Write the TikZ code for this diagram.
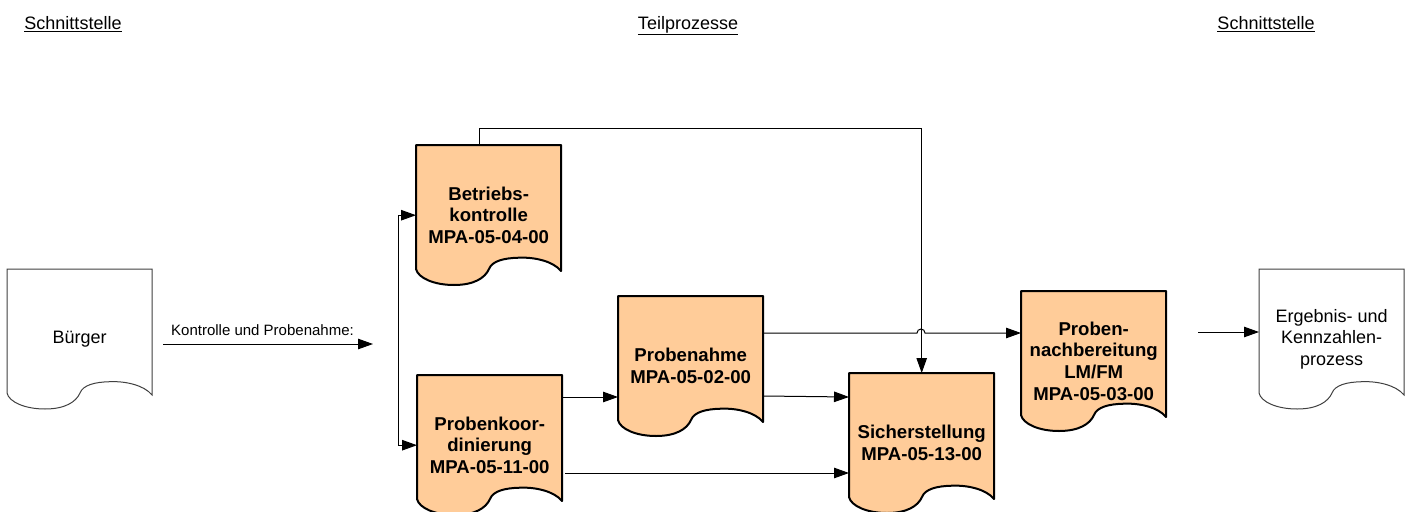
\documentclass[tikz,border=0pt]{standalone}
\usepackage{fontspec}
\setmainfont{Liberation Sans}
\usetikzlibrary{arrows.meta,backgrounds}
\definecolor{peach}{RGB}{255,204,153}
\tikzset{
  docnode/.style={rectangle, minimum width=145pt, minimum height=140pt, inner sep=0pt, anchor=north west, align=center},
  proc/.style={docnode, font=\bfseries\fontsize{18.6}{21.8}\selectfont},
  iface/.style={docnode, font=\fontsize{18}{21.5}\selectfont},
  procshape/.style={fill=peach, draw=black, line width=2pt, line join=round},
  ifaceshape/.style={fill=white, draw=black!75, line width=1pt},
  conn/.style={draw=black, line width=1pt, -{Triangle[length=15pt,width=10.5pt]}},
  head/.style={font=\fontsize{18}{21.5}\selectfont, inner sep=0pt, anchor=base},
  lbl/.style={font=\fontsize{15}{18}\selectfont, inner sep=0pt, anchor=base west}
}
\newcommand{\drawdoc}[2]{%
  \begin{scope}[shift={(#1.north west)}]
    \path[#2] (0,0) -- (145,0) -- (145,-126)
      .. controls (137,-116) and (118,-112) .. (103,-112.7)
      .. controls (88,-113) and (76,-116) .. (73,-124)
      .. controls (69,-133) and (58,-140) .. (38,-140)
      .. controls (18,-140) and (2,-133) .. (0,-124) -- cycle;
  \end{scope}}
\begin{document}
\begin{tikzpicture}[x=1pt,y=1pt]
\useasboundingbox (0,0) rectangle (1407,-511);
% headers
\node[head] (h1) at (73,-29.5) {\underline{Schnittstelle}};
\node[head] (h2) at (688,-29.5) {\underline{Teilprozesse}};
\node[head] (h3) at (1266,-29.5) {\underline{Schnittstelle}};
% nodes
\node[iface] (buerger) at (7,-269) {Bürger};
\node[proc] (betriebs) at (416,-145) {Betriebs-\\kontrolle\\MPA-05-04-00};
\node[proc] (koord) at (417,-375) {Probenkoor-\\dinierung\\MPA-05-11-00};
\node[proc] (nahme) at (618,-296) {Probenahme\\MPA-05-02-00};
\node[proc] (sicher) at (849,-373) {Sicherstellung\\MPA-05-13-00};
\node[proc] (nach) at (1021,-291) {Proben-\\nachbereitung\\LM/FM\\MPA-05-03-00};
\node[iface] (ergebnis) at (1259,-269) {Ergebnis- und\\Kennzahlen-\\prozess};
\begin{pgfonlayer}{background}
  \drawdoc{buerger}{ifaceshape}
  \drawdoc{ergebnis}{ifaceshape}
  \drawdoc{betriebs}{procshape}
  \drawdoc{koord}{procshape}
  \drawdoc{nahme}{procshape}
  \drawdoc{sicher}{procshape}
  \drawdoc{nach}{procshape}
\end{pgfonlayer}
% connectors
\coordinate (kpend) at (373,-344);
\draw[conn] (buerger.east |- kpend) ++(11,0) -- (kpend);
\node[lbl] (kplbl) at (171,-335.5) {Kontrolle und Probenahme:};
\coordinate (split) at (398,-344);
\draw[conn] (split) |- (betriebs.west);
\draw[conn] (split) |- (koord.west);
\coordinate (topturn) at (479,-128);
\draw[conn] (betriebs.north -| topturn) -- (topturn) -| (sicher.north);
\draw[conn] (koord.east |- 0,-397) -- (nahme.west |- 0,-397);
\draw[conn] (koord.east |- 0,-473) ++(3,0) -- (sicher.west |- 0,-473);
\draw[conn] (nahme.east |- 0,-396) -- (sicher.west |- 0,-397);
\draw[conn] (nahme.east |- 0,-333) -- (917,-333) arc[start angle=180,end angle=0,radius=4] -- (nach.west |- 0,-333);
\draw[conn] (nach.east |- 0,-332) ++(32,0) -- (ergebnis.west |- 0,-332);
\end{tikzpicture}
\end{document}
